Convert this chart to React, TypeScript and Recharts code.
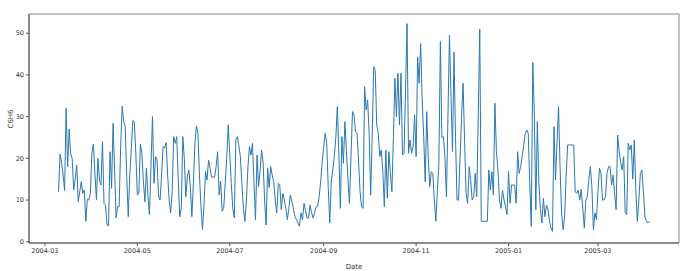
import React from 'react';
import { LineChart, Line, XAxis, YAxis, ReferenceArea } from 'recharts';

// daily mean C6H6, starting 2004-03-10
const startDate = '2004-03-10';
const c6h6 = [
  12, 21, 19, 16, 12.3, 32, 18, 27, 21, 20,
  12.4, 15, 18.4, 9.6, 12, 14.4, 11.6, 12.4, 4.9, 10.2,
  10, 11.6, 21.2, 23.4, 16.4, 10, 20, 14.8, 13.6, 24,
  9.2, 8.8, 4, 3.8, 21.6, 12.8, 28.4, 17, 5.7, 8.4,
  8.4, 22.8, 32.5, 28.8, 27.6, 15.6, 6, 16, 22, 29,
  28.8, 21.2, 11.2, 11.6, 23.4, 21.2, 14.4, 9.6, 17.6, 11,
  6.5, 18, 30, 14, 20.4, 19.6, 11, 10, 16, 22.8,
  22.5, 23.8, 16, 10, 6.9, 12, 25.2, 23.6, 25.2, 14.8,
  6, 8, 25.2, 20, 10.8, 15.6, 17.2, 13, 6, 14,
  23.6, 27.8, 26, 16, 8.4, 2.9, 9, 16.8, 14.8, 19.6,
  17.6, 15.5, 15.5, 15.5, 18, 21.6, 11.2, 14.5, 7.3, 8,
  14, 20, 28, 21, 14, 8, 5.7, 24.4, 25.2, 23,
  20.4, 14, 8, 4.9, 10, 18, 22.8, 20.8, 23.6, 14,
  5.3, 20.8, 13.2, 17, 22, 19, 10, 4, 17.6, 13,
  18, 16, 14.4, 10, 6.9, 14, 13.6, 7.7, 11.6, 10,
  8, 5.3, 8, 11.2, 9.6, 8, 6, 5.3, 4.5, 3.7,
  6.9, 5.3, 9.2, 7.5, 5.7, 5.7, 8.8, 7, 5.7, 7,
  8.4, 8.5, 10.8, 14.4, 19, 22.8, 26, 23.6, 13, 4.5,
  14.4, 17.2, 20.4, 25, 32.4, 21, 8, 25.2, 18.8, 28.8,
  21.6, 15, 9.2, 20.4, 31.2, 30.4, 26.4, 26, 19.6, 12,
  8.4, 8, 37.2, 31.6, 34, 26, 11.2, 25, 42, 41.1,
  28, 26, 20.4, 22, 17.2, 8.4, 22, 10.4, 21.6, 16.4,
  12, 25, 39.2, 30, 40.4, 28, 40.4, 20.8, 21.2, 36,
  52.3, 21.2, 24.4, 21.2, 22.8, 30.4, 20.4, 44.3, 38, 47.5,
  34, 25.2, 14.4, 31.2, 20, 13.2, 16.8, 16.4, 10, 4.9,
  12, 18.4, 48, 25, 25.2, 20.4, 10.8, 30, 49.5, 35,
  21.6, 45.5, 25, 10, 10, 20, 30, 38, 24, 11.6,
  9.2, 18, 14.8, 10, 10.8, 16.4, 10.8, 30, 51, 4.9,
  4.9, 4.9, 4.9, 4.9, 17.2, 12.4, 16.8, 11.2, 33.2, 21.6,
  17.2, 10, 8, 12.4, 10, 8.4, 6.5, 16.8, 9.2, 13.6,
  13.6, 13.6, 9.2, 21.6, 16.4, 18, 20.4, 23, 26, 26.8,
  26, 14, 3.7, 43, 30.8, 7.7, 28.8, 14, 8, 4.5,
  10.4, 6, 8.8, 7.7, 5, 3.3, 2.5, 27.6, 14.8, 23.6,
  32.4, 18, 6.9, 2.9, 6, 15.6, 23.2, 23.2, 23.2, 23.2,
  23.2, 12, 11.6, 12.4, 10, 12.6, 8, 3.3, 10, 10.8,
  15, 18, 13.2, 2.9, 6.9, 5.3, 12, 17.6, 16.4, 10,
  10, 10.8, 16.4, 18, 18, 13.6, 16, 11.6, 7.7, 25.6,
  21.6, 19, 17.2, 20.4, 7, 6.5, 23.6, 22, 23.2, 15,
  24.4, 12.4, 4.9, 10, 16.4, 17.2, 12, 6, 5, 4.5,
  4.9,
];
const monthTicks = ['2004-03', '2004-05', '2004-07', '2004-09', '2004-11', '2005-01', '2005-03'];
const yTicks = [0, 10, 20, 30, 40, 50];
const yDomain = [-0.3, 54.6];

const DAY = 86400000;
const t0 = Date.parse(startDate + 'T00:00:00Z');
const data = c6h6.map((v, i) => ({ t: t0 + i * DAY, v }));
const tickTimes = monthTicks.map((m) => Date.parse(m + '-01T00:00:00Z'));
const pad = (c6h6.length - 1) * 0.05 * DAY; // matplotlib-like 5% margin
const xDomain = [t0 - pad, t0 + (c6h6.length - 1) * DAY + pad];

const fmtMonth = (t: number) => new Date(t).toISOString().slice(0, 7);

const tickStyle = { fill: '#333', fontSize: 6.5, fontFamily: 'DejaVu Sans' };

export default function App() {
  return (
    <div style={{ position: 'absolute', left: 0, top: 0, width: 687, height: 271, background: '#fff' }}>
      <LineChart width={687} height={271} data={data} margin={{ top: 14, right: 8, bottom: 0, left: 0 }}>
        <XAxis
          dataKey="t"
          type="number"
          domain={xDomain}
          ticks={tickTimes}
          tickFormatter={fmtMonth}
          allowDataOverflow
          height={28}
          stroke="#555"
          tickSize={3}
          tick={tickStyle}
          label={{ value: 'Date', position: 'insideBottom', offset: 2, fill: '#333', fontSize: 7, fontFamily: 'DejaVu Sans' }}
        />
        <YAxis
          type="number"
          domain={yDomain}
          ticks={yTicks}
          allowDataOverflow
          width={29}
          stroke="#555"
          tickSize={3}
          tick={tickStyle}
          label={{ value: 'C6H6', angle: -90, position: 'insideLeft', offset: 11, fill: '#333', fontSize: 7, fontFamily: 'DejaVu Sans' }}
        />
        {/* plot frame (top/right spines) */}
        <ReferenceArea
          x1={xDomain[0]}
          x2={xDomain[1]}
          y1={yDomain[0]}
          y2={yDomain[1]}
          fill="none"
          stroke="#888"
          strokeWidth={1}
          ifOverflow="visible"
        />
        <Line
          type="linear"
          dataKey="v"
          stroke="#2b78b0"
          strokeWidth={1}
          dot={false}
          isAnimationActive={false}
        />
      </LineChart>
    </div>
  );
}
